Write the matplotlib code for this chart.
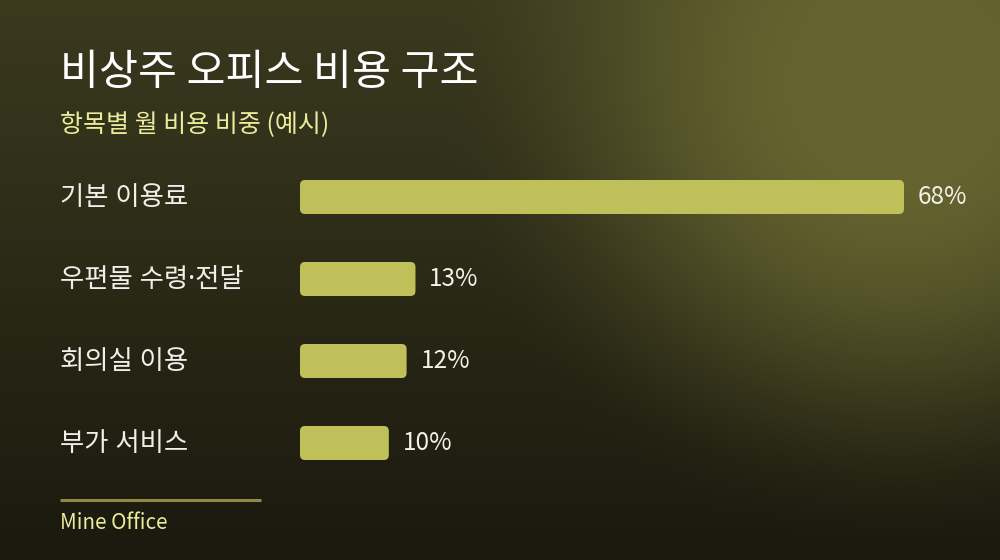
import matplotlib
matplotlib.use('Agg')
import matplotlib.pyplot as plt
import matplotlib.transforms as mtransforms
from matplotlib.patches import FancyBboxPatch
import numpy as np

plt.rcParams['font.family'] = ['Noto Sans CJK KR', 'DejaVu Sans']

categories = ['기본 이용료', '우편물 수령·전달', '회의실 이용', '부가 서비스']
shares = [68, 13, 12, 10]
value_labels = ['68%', '13%', '12%', '10%']

title = '비상주 오피스 비용 구조'
subtitle = '항목별 월 비용 비중 (예시)'
footer = 'Mine Office'

W, H = 1000, 560
fig = plt.figure(figsize=(W / 100, H / 100), dpi=100)

# background: vertical dark gradient plus olive glow near the top right
bg_ax = fig.add_axes([0, 0, 1, 1])
yy, xx = np.mgrid[0:H, 0:W]
top = np.array([0x3b, 0x3a, 0x1f]) / 255
bottom = np.array([0x1a, 0x19, 0x0e]) / 255
t = (yy / (H - 1))[..., None]
base = top * (1 - t) + bottom * t
glow = np.array([0x65, 0x63, 0x2f]) / 255
r = np.hypot(xx - 898, yy - 84)
s = np.clip((r - 80) / 390, 0, 1)
w = (1 - s * s * (3 - 2 * s))[..., None]
img = base * (1 - w) + glow * w
bg_ax.imshow(img, extent=[0, W, H, 0], aspect='auto', interpolation='bilinear')
bg_ax.set_xlim(0, W)
bg_ax.set_ylim(H, 0)
bg_ax.axis('off')

# bar axes: x starts at pixel 300, 604 px for 68 %
px_per_pct = 604 / 68
row_px = [197, 279, 361, 443]
row_gap = 82
ax_top, ax_bot = 150, 480
ax = fig.add_axes([0.30, 1 - ax_bot / H, 0.70, (ax_bot - ax_top) / H])
ax.set_xlim(0, 700 / px_per_pct)
ax.set_ylim((ax_bot - row_px[0]) / row_gap, (ax_top - row_px[0]) / row_gap)
ax.axis('off')

bar_h = 34 / row_gap
radius = 5 / px_per_pct
aspect = px_per_pct / row_gap
for i, (cat, v, lab) in enumerate(zip(categories, shares, value_labels)):
    ax.add_patch(FancyBboxPatch((0, i - bar_h / 2), v, bar_h,
                                boxstyle=f'round,pad=0,rounding_size={radius}',
                                mutation_aspect=aspect,
                                fc='#c0c05a', ec='none'))
    ax.annotate(lab, (v, i), xytext=(10, 0), textcoords='offset points',
                va='center', ha='left', color='#f2f2ea', fontsize=17.5)

# Noto Sans first so the middle dot stays narrow, Hangul falls through to CJK
trans = mtransforms.blended_transform_factory(fig.transFigure, ax.transData)
for i, cat in enumerate(categories):
    ax.text(60 / W, i + 0.01, cat, transform=trans, va='center', ha='left',
            color='#f0f0ea', fontsize=19, clip_on=False,
            family=['Noto Sans', 'Noto Sans CJK KR'])

fig.text(60 / W, 1 - 73 / H, title, color='white', fontsize=30.5,
         va='center', ha='left')
fig.text(60 / W, 1 - 125 / H, subtitle, color='#ecec9c', fontsize=18,
         va='center', ha='left')

bg_ax.plot([60, 261], [500, 500], color='#8c8a48', lw=2.2,
           solid_capstyle='butt')
fig.text(60 / W, 1 - 523 / H, footer, color='#ecec9c', fontsize=14.8,
         va='center', ha='left')

fig.savefig('out.png', dpi=100)
